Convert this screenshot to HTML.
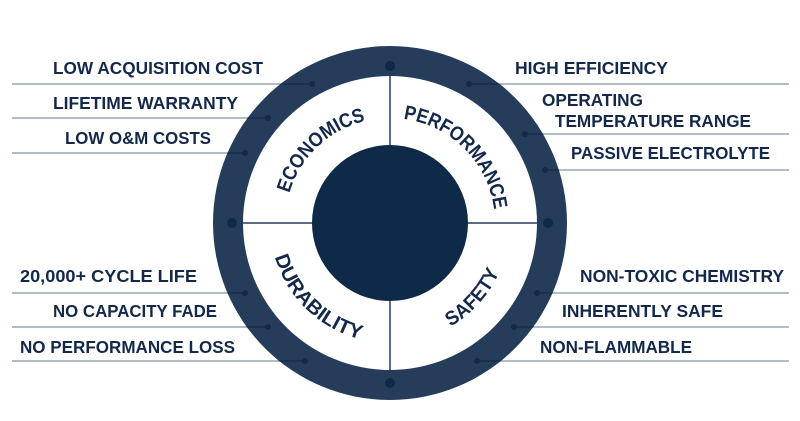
<!DOCTYPE html>
<html><head><meta charset="utf-8"><style>
html,body{margin:0;padding:0;background:#fff;}
svg{display:block;}
text{font-family:"Liberation Sans",sans-serif;font-weight:bold;fill:#14294a;font-size:17.5px;}
.q{font-size:20px;}
</style></head><body>
<svg width="800" height="421" viewBox="0 0 800 421">
<defs>
<path id="pE" d="M 285 220.3 A 105 105 0 0 1 392.7 118"/>
<path id="pP" d="M 390 118 A 105 105 0 0 1 495 223"/>
<path id="pD" d="M 270 225.1 A 120 120 0 0 0 392.1 343"/>
<path id="pS" d="M 396.3 342.8 A 120 120 0 0 0 509.8 216.7"/>
<clipPath id="ring"><circle cx="390" cy="223" r="177"/></clipPath>
<g id="lines">
<line x1="12" y1="84" x2="312" y2="84"/>
<line x1="12" y1="118" x2="268" y2="118"/>
<line x1="12" y1="153" x2="245" y2="153"/>
<line x1="12" y1="293" x2="245" y2="293"/>
<line x1="12" y1="327" x2="268" y2="327"/>
<line x1="12" y1="361" x2="305" y2="361"/>
<line x1="469" y1="84" x2="789" y2="84"/>
<line x1="525" y1="134" x2="789" y2="134"/>
<line x1="545" y1="170" x2="789" y2="170"/>
<line x1="537" y1="293" x2="789" y2="293"/>
<line x1="514" y1="327" x2="789" y2="327"/>
<line x1="477" y1="361" x2="789" y2="361"/>
</g>
</defs>
<g stroke="#8593a8" stroke-width="1.3"><use href="#lines"/></g>
<circle cx="390" cy="223" r="177" fill="#253d5b"/>
<g stroke="#14294a" stroke-width="1.3" clip-path="url(#ring)"><use href="#lines"/></g>
<circle cx="390" cy="223" r="147" fill="#fff"/>
<g stroke="#253d5b" stroke-width="1.5">
<line x1="390" y1="66" x2="390" y2="383"/>
<line x1="232" y1="223" x2="548" y2="223"/>
</g>
<circle cx="390" cy="223" r="78" fill="#0f2a48"/>
<g fill="#0f2a48">
<circle cx="390" cy="66" r="5"/><circle cx="232" cy="223" r="5"/>
<circle cx="548" cy="223" r="5"/><circle cx="390" cy="383" r="5"/>
</g>
<g fill="#14294a">
<circle cx="312" cy="84" r="3"/><circle cx="268" cy="118" r="3"/><circle cx="245" cy="153" r="3"/>
<circle cx="245" cy="293" r="3"/><circle cx="268" cy="327" r="3"/><circle cx="305" cy="361" r="3"/>
<circle cx="469" cy="84" r="3"/><circle cx="525" cy="134" r="3"/><circle cx="545" cy="170" r="3"/>
<circle cx="537" cy="293" r="3"/><circle cx="514" cy="327" r="3"/><circle cx="477" cy="361" r="3"/>
</g>
<text class="q"><textPath href="#pE" startOffset="50%" text-anchor="middle" textLength="110" lengthAdjust="spacingAndGlyphs">ECONOMICS</textPath></text>
<text class="q"><textPath href="#pP" startOffset="50%" text-anchor="middle" textLength="138" lengthAdjust="spacingAndGlyphs">PERFORMANCE</textPath></text>
<text class="q"><textPath href="#pD" startOffset="50%" text-anchor="middle" textLength="124" lengthAdjust="spacingAndGlyphs">DURABILITY</textPath></text>
<text class="q"><textPath href="#pS" startOffset="50%" text-anchor="middle" textLength="74" lengthAdjust="spacingAndGlyphs">SAFETY</textPath></text>
<text x="53" y="74" textLength="210" lengthAdjust="spacingAndGlyphs">LOW ACQUISITION COST</text>
<text x="53" y="109" textLength="185" lengthAdjust="spacingAndGlyphs">LIFETIME WARRANTY</text>
<text x="65" y="144" textLength="146" lengthAdjust="spacingAndGlyphs">LOW O&amp;M COSTS</text>
<text x="20" y="282" textLength="177" lengthAdjust="spacingAndGlyphs">20,000+ CYCLE LIFE</text>
<text x="53" y="317" textLength="164" lengthAdjust="spacingAndGlyphs">NO CAPACITY FADE</text>
<text x="20" y="353" textLength="215" lengthAdjust="spacingAndGlyphs">NO PERFORMANCE LOSS</text>
<text x="515" y="74" textLength="153" lengthAdjust="spacingAndGlyphs">HIGH EFFICIENCY</text>
<text x="542" y="106" textLength="101" lengthAdjust="spacingAndGlyphs">OPERATING</text>
<text x="555" y="127" textLength="196" lengthAdjust="spacingAndGlyphs">TEMPERATURE RANGE</text>
<text x="571" y="159" textLength="199" lengthAdjust="spacingAndGlyphs">PASSIVE ELECTROLYTE</text>
<text x="580" y="282" textLength="204" lengthAdjust="spacingAndGlyphs">NON-TOXIC CHEMISTRY</text>
<text x="562" y="317" textLength="161" lengthAdjust="spacingAndGlyphs">INHERENTLY SAFE</text>
<text x="540" y="353" textLength="152" lengthAdjust="spacingAndGlyphs">NON-FLAMMABLE</text>
</svg>
</body></html>
